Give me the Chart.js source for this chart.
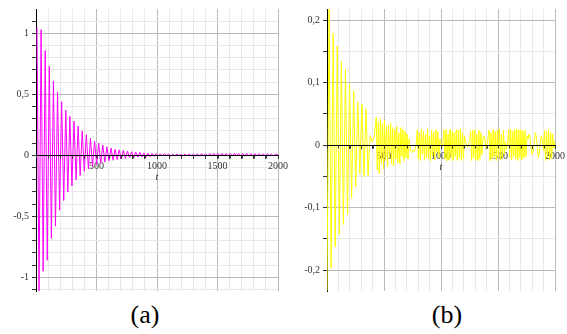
<!DOCTYPE html>
<html>
<head>
<meta charset="utf-8">
<script src="https://cdn.jsdelivr.net/npm/chart.js@4.4.1/dist/chart.umd.min.js"></script>
<style>
  html, body { margin: 0; padding: 0; background: #ffffff; }
  #wrap { position: relative; width: 567px; height: 334px; overflow: hidden; }
  canvas { position: absolute; top: 0; }
  .cap { position: absolute; top: 302px; width: 60px; text-align: center;
         font-family: "Liberation Serif", serif; font-size: 26px; line-height: 26px; color: #000; }
</style>
</head>
<body>
<div id="wrap">
  <canvas id="ca" width="290" height="300" style="left:0px"></canvas>
  <canvas id="cb" width="277" height="300" style="left:290px"></canvas>
  <div class="cap" style="left:115px">(a)</div>
  <div class="cap" style="left:417px">(b)</div>
</div>
<script>
// ---- Panel (a): magenta damped oscillation, samples every 17 time units from t = 8
const startA = 8;
const stepA = 17;
const valuesA = [
  1.05, -1.11, 1.03, -0.95, 0.86, -0.86, 0.73, -0.68, 0.61, -0.58,
  0.52, -0.45, 0.44, -0.37, 0.37, -0.30, 0.32, -0.25, 0.28, -0.20,
  0.24, -0.165, 0.20, -0.13, 0.17, -0.11, 0.14, -0.09, 0.115, -0.075,
  0.10, -0.065, 0.085, -0.055, 0.07, -0.045, 0.06, -0.04, 0.05, -0.035,
  0.045, -0.03, 0.04, -0.025, 0.035, -0.02, 0.03, -0.02, 0.028, -0.015,
  0.025, -0.012, 0.02, -0.012, 0.018, -0.01, 0.016, -0.008, 0.014, -0.006,
  0.012, -0.005, 0.015, -0.004, 0.012, -0.006, 0.01, -0.005, 0.012, -0.004,
  0.01, -0.006, 0.011, -0.004, 0.013, -0.005, 0.01, -0.004, 0.012, -0.006,
  0.014, -0.005, 0.012, -0.004, 0.015, -0.006, 0.016, -0.005, 0.015, -0.006,
  0.016, -0.006, 0.015, -0.005, 0.016, -0.006, 0.017, -0.006, 0.016, -0.005,
  0.015, -0.006, 0.016, -0.005, 0.015, -0.006, 0.014, -0.005, 0.015, -0.004,
  0.012, -0.005, 0.014, -0.004, 0.012, -0.005, 0.01, 0.005
];

// ---- Panel (b): yellow signal
// decaying head: samples every 18 time units from t = 0
const startB = 0;
const stepB = 18;
const headB = [
  -0.233, 0.22, -0.197, 0.179, -0.163, 0.159, -0.143, 0.134, -0.127, 0.121,
  -0.111, 0.098, -0.085, 0.087, -0.067, 0.069, -0.046, 0.066, -0.05, 0.058,
  -0.049, 0.015, 0.005, 0.012
];
// noisy tail: samples every 9 time units from t = 432
const startTailB = 432;
const stepTailB = 9;
const tailB = [
  0.045, -0.04, 0.038, -0.045, 0.042, -0.03, 0.035, -0.038, 0.04, -0.025,
  0.03, -0.035, 0.032, -0.02, 0.035, -0.03, 0.028, -0.033, 0.025, -0.022,
  0.03, -0.028, 0.02, -0.03, 0.028, -0.018, 0.025, -0.025, 0.022, -0.02,
  0.018, -0.022, 0.01,
  -0.004, -0.01, -0.012, -0.008, -0.01, -0.006, 0.002,
  0.025, -0.022, 0.02, -0.025, 0.026, -0.015, 0.022, -0.024, 0.018, -0.02,
  0.026, -0.022, 0.015, -0.025, 0.024, -0.018, 0.02, -0.024, 0.025, -0.012,
  0.022, -0.02, 0.01,
  0.004, -0.004, 0.006,
  0.024, -0.022, 0.025, -0.025, 0.018, -0.024, 0.026, -0.02, 0.022, -0.025,
  0.02, -0.018, 0.025, -0.024, 0.024, -0.02, 0.026, -0.025, 0.02, -0.022,
  0.015,
  0.005, 0.0, -0.004, 0.003, 0.006,
  0.022, -0.025, 0.024, -0.02, 0.025, -0.024, 0.018, -0.025, 0.024, -0.022,
  0.02, -0.015,
  0.01, 0.015, 0.008, -0.004, 0.002, 0.012,
  0.024, -0.025, 0.02, -0.022, 0.025, -0.018, 0.022, -0.025, 0.024, -0.02,
  0.026, -0.024, 0.018, -0.022, 0.024, -0.015,
  0.005, -0.006, 0.004,
  0.025, -0.02, 0.026, -0.024, 0.022, -0.018, 0.025, -0.022, 0.026, -0.025,
  0.024, -0.02, 0.025, -0.024, 0.022, -0.02, 0.024, -0.018, 0.015,
  0.01, 0.018, 0.012, -0.005, -0.015, -0.01, 0.005, 0.02, 0.015, -0.005,
  -0.02, -0.012, 0.008, 0.015, 0.005, -0.008,
  0.024, -0.025, 0.022, -0.02, 0.025, -0.024, 0.02, -0.022, 0.018,
  -0.005, 0.004, 0.01
];

// ---- Tick labels
const xTickValues = [500, 1000, 1500, 2000];
const xTickLabels = ['500', '1000', '1500', '2000'];
const yTickValuesA = [-1, -0.5, 0, 0.5, 1];
const yTickLabelsA = ['-1', '-0,5', '0', '0,5', '1'];
const yTickValuesB = [-0.2, -0.1, 0, 0.1, 0.2];
const yTickLabelsB = ['-0,2', '-0,1', '0', '0,1', '0,2'];
const axisTitle = 't';

function toPoints(start, step, vals) {
  return vals.map((v, i) => ({ x: start + i * step, y: v }));
}

function near(a, b) { return Math.abs(a - b) < 1e-6; }

const MAJOR = '#b9b9b9';
const MINOR = '#e8e8e8';
const TICKFONT = { family: 'Liberation Serif', size: 10 };

// axis title "t" and the horizontal axis line redrawn above the data
const overlayPlugin = {
  id: 'overlay',
  afterDatasetsDraw(chart) {
    const { ctx, scales, chartArea } = chart;
    const y0 = Math.round(scales.y.getPixelForValue(0)) + 0.5;
    ctx.save();
    ctx.strokeStyle = '#000';
    ctx.lineWidth = 1;
    ctx.beginPath();
    ctx.moveTo(chartArea.left, y0);
    ctx.lineTo(chartArea.right, y0);
    ctx.stroke();
    ctx.strokeStyle = '#333';
    ctx.beginPath();
    scales.x.ticks.forEach(t => {
      const px = Math.round(scales.x.getPixelForValue(t.value)) + 0.5;
      ctx.moveTo(px, y0);
      ctx.lineTo(px, y0 + 3);
    });
    ctx.stroke();
    ctx.restore();
  },
  afterDraw(chart) {
    const { ctx, scales } = chart;
    const x = scales.x.getPixelForValue(1000);
    const y = scales.y.getPixelForValue(0) + 22;
    ctx.save();
    ctx.font = 'italic 10px "Liberation Serif"';
    ctx.fillStyle = '#333';
    ctx.textAlign = 'center';
    ctx.textBaseline = 'middle';
    ctx.fillText(axisTitle, x, y);
    ctx.restore();
  }
};

function makeChart(id, points, color, axisW, ymin, ymax, yStep, yMajorStep, yVals, yLabs) {
  return new Chart(document.getElementById(id), {
    type: 'line',
    data: { datasets: [{ data: points, borderColor: color, borderWidth: 1,
      pointRadius: 0, tension: 0, fill: false }] },
    options: {
      responsive: false, animation: false, devicePixelRatio: 1,
      parsing: false, normalized: true,
      layout: { padding: { left: 0, right: 8, top: 5, bottom: 7 } },
      plugins: { legend: { display: false }, tooltip: { enabled: false } },
      events: [],
      scales: {
        x: {
          type: 'linear', min: 0, max: 2000,
          position: { y: 0 },
          border: { color: '#000', width: 1 },
          grid: {
            color: c => near(c.tick.value, 0) ? '#000' : (c.tick.value % 500 === 0 ? MAJOR : MINOR),
            tickColor: '#333', tickLength: 3, lineWidth: 1
          },
          ticks: {
            stepSize: 100, autoSkip: false, maxRotation: 0, includeBounds: false,
            padding: 2, color: '#333', font: TICKFONT,
            callback: v => { const k = xTickValues.indexOf(v); return k >= 0 ? xTickLabels[k] : ''; }
          }
        },
        y: {
          type: 'linear', min: ymin, max: ymax,
          afterFit: s => { s.width = axisW; },
          border: { color: '#000', width: 1 },
          grid: {
            color: c => {
              const v = c.tick.value;
              if (near(v, 0)) return '#000';
              return near(Math.round(v / yMajorStep) * yMajorStep, v) ? MAJOR : MINOR;
            },
            tickColor: '#333', tickLength: 4, lineWidth: 1
          },
          ticks: {
            stepSize: yStep, autoSkip: false, includeBounds: false,
            padding: 3, color: '#333', font: TICKFONT,
            callback: v => {
              for (let k = 0; k < yVals.length; k++) if (near(yVals[k], v)) return yLabs[k];
              return '';
            }
          }
        }
      }
    },
    plugins: [overlayPlugin]
  });
}

const pointsA = toPoints(startA, stepA, valuesA);
const pointsB = toPoints(startB, stepB, headB).concat(toPoints(startTailB, stepTailB, tailB));

makeChart('ca', pointsA, '#ff00ff', 36, -1.112, 1.2, 0.1, 0.5, yTickValuesA, yTickLabelsA);
makeChart('cb', pointsB, '#ffff00', 37, -0.2335, 0.218, 0.05, 0.1, yTickValuesB, yTickLabelsB);
</script>
</body>
</html>
